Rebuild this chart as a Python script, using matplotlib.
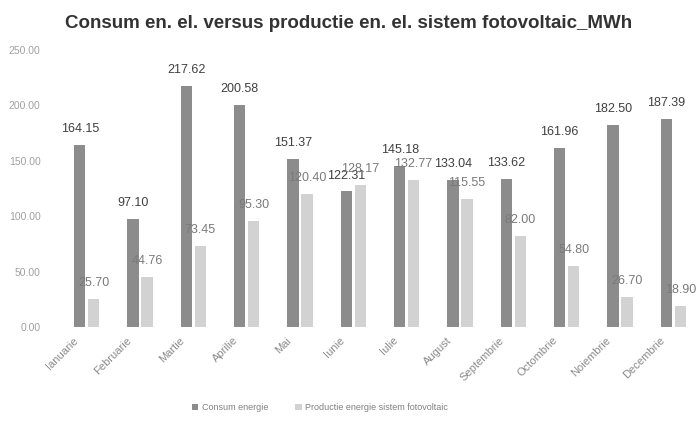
import matplotlib.pyplot as plt
import matplotlib.transforms as mtransforms
import numpy as np

luni = ['Ianuarie', 'Februarie', 'Martie', 'Aprilie', 'Mai', 'Iunie',
        'Iulie', 'August', 'Septembrie', 'Octombrie', 'Noiembrie', 'Decembrie']
consum = [164.15, 97.10, 217.62, 200.58, 151.37, 122.31,
          145.18, 133.04, 133.62, 161.96, 182.50, 187.39]
productie = [25.70, 44.76, 73.45, 95.30, 120.40, 128.17,
             132.77, 115.55, 82.00, 54.80, 26.70, 18.90]

fig = plt.figure(figsize=(6.99, 4.28), dpi=100)
ax = fig.add_axes([60 / 699, 101 / 428, 640 / 699, 277 / 428])

x = np.arange(len(luni))
w = 0.21
b1 = ax.bar(x - 0.13, consum, w, color='#8c8c8c', label='Consum energie')
b2 = ax.bar(x + 0.13, productie, w, color='#d2d2d2',
            label='Productie energie sistem fotovoltaic')

for rect, v in zip(b1, consum):
    ax.text(rect.get_x() + rect.get_width() / 2, v + 9, f'{v:.2f}',
            ha='center', va='bottom', fontsize=9, color='#404040',
            family='Liberation Sans')
for rect, v in zip(b2, productie):
    ax.text(rect.get_x() + rect.get_width() / 2, v + 9, f'{v:.2f}',
            ha='center', va='bottom', fontsize=9, color='#7a7a7a',
            family='Liberation Sans')

ax.set_xlim(-0.5, 11.5)
ax.set_ylim(0, 250)
ax.set_yticks(np.arange(0, 251, 50))
ax.set_yticklabels([f'{t:.2f}' for t in np.arange(0, 251, 50)],
                   fontsize=7.5, color='#a0a0a0', family='Liberation Sans')
ax.set_xticks(x)
ax.set_xticklabels(luni, rotation=45, ha='right', rotation_mode='anchor',
                   fontsize=8, color='#8a8a8a', family='Liberation Sans')
ax.tick_params(axis='x', length=0, pad=6)
ax.tick_params(axis='y', length=0, pad=14)
# month names sit a little left of each group
shift = mtransforms.ScaledTranslation(-14 / 100, 0, fig.dpi_scale_trans)
for lbl in ax.get_xticklabels():
    lbl.set_transform(lbl.get_transform() + shift)
for s in ax.spines.values():
    s.set_visible(False)

fig.suptitle('Consum en. el. versus productie en. el. sistem fotovoltaic_MWh',
             x=0.498, y=0.965, fontsize=13.5, fontweight='bold', color='#333333',
             family='Liberation Sans')

fig.legend(handles=[b1, b2], loc='center', bbox_to_anchor=(0.458, 0.047),
           ncol=2, frameon=False, labelcolor='#808080',
           handlelength=0.7, handleheight=0.7, columnspacing=3,
           handletextpad=0.4, prop={'family': 'Liberation Sans', 'size': 6.5})

fig.savefig('out.png', dpi=100)
